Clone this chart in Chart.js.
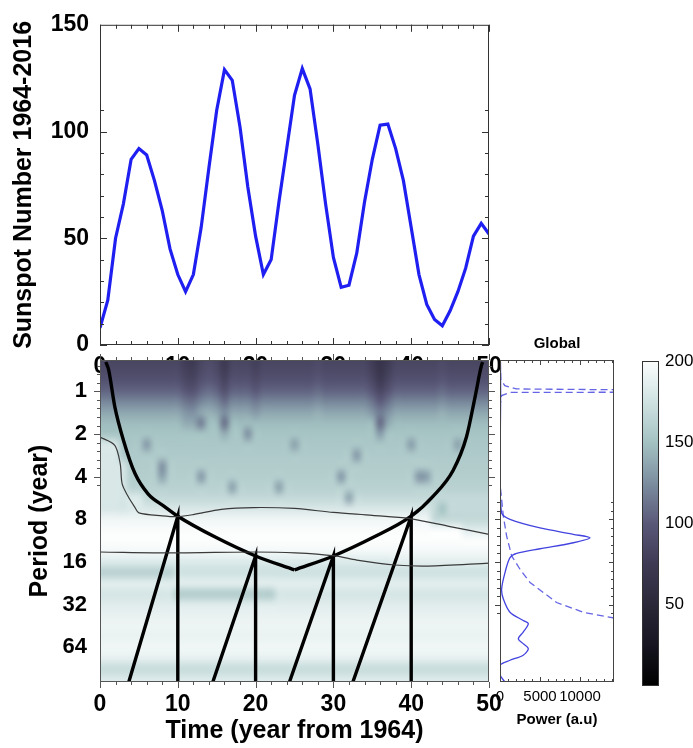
<!DOCTYPE html>
<html>
<head>
<meta charset="utf-8">
<script src="https://cdn.jsdelivr.net/npm/chart.js@4.4.1/dist/chart.umd.min.js"></script>
<style>
  html, body { margin: 0; padding: 0; background: #fff; }
  #wrap { position: relative; width: 693px; height: 748px; overflow: hidden; }
  #wrap canvas { position: absolute; left: 0; top: 0; }
</style>
</head>
<body>
<div id="wrap">
  <canvas id="sunspot" width="693" height="748"></canvas>
  <canvas id="wavelet" width="693" height="748"></canvas>
  <canvas id="global" width="693" height="748"></canvas>
  <canvas id="colorbar" width="693" height="748"></canvas>
</div>
<script>
// ---------- data ----------

// yearly sunspot number, one value per year from 1964 (t = 0 .. 50)
const sunspotValues = [8, 21, 50, 66, 87, 92, 89, 77, 63, 45, 33, 25, 33, 55, 83, 110, 129, 124, 102, 74,
  51, 33, 40, 67, 92, 117, 129.5, 120, 94, 66, 41, 27, 28, 43, 67, 87, 103, 103.5, 92, 77,
  55, 33, 19, 12, 9, 16, 25, 36, 51, 57, 52];

const sunspotTicks = [0, 50, 100, 150];
const timeTicks = [0, 10, 20, 30, 40, 50];
const periodTicks = [1, 2, 4, 8, 16, 32, 64];
const powerTicks = [0, 5000, 10000];
const colorTicks = [50, 100, 150, 200];

// wavelet power: rows every quarter octave of period (log2), one column per year
const powerRowsLog2 = [-0.75, -0.5, -0.25, 0, 0.25, 0.5, 0.75, 1, 1.25, 1.5, 1.75, 2, 2.25, 2.5, 2.75, 3,
  3.25, 3.5, 3.75, 4, 4.25, 4.5, 4.75, 5, 5.25, 5.5, 5.75, 6, 6.25, 6.5, 6.75, 7];
const powerRowBase = [84, 88, 95, 106, 122, 137, 147, 152, 154, 156, 158, 159, 162, 168, 180, 193,
  199, 200, 195, 182, 174, 186, 178, 184, 189, 192, 190, 194, 188, 170, 182, 188];
// darker / lighter vertical streaks at short periods: [year, up to log2 period, shift]
const topStreaks = [[11, 0.75, -8], [12, 0.75, -10], [16, 1.0, -12], [20, 0.5, -6], [35, 0.5, -8],
  [36, 1.0, -20], [37, 0.75, -10], [14, 0.5, 5], [28, 0.5, 4], [44, 0.5, 4]];
// areas with a different level: [year from, year to, log2 from, log2 to, value]
const powerPatches = [[0, 2, 1.25, 2.75, 180], [3, 3, 1.75, 2.75, 178], [4, 5, 2.5, 2.75, 182],
  [43, 50, 2.75, 3.0, 168], [47, 50, 3.25, 3.25, 184], [38, 50, 4.0, 4.0, 186],
  [0, 9, 4.25, 4.25, 162], [10, 22, 4.75, 4.75, 158]];
// small dark blobs: [year, log2 period, value]
const powerSpots = [[6, 1.25, 130], [8, 1.75, 126], [8, 2.0, 134], [13, 0.75, 118], [13, 2.0, 130],
  [16, 0.75, 110], [17, 2.25, 134], [19, 1.0, 126], [23, 2.25, 134], [25, 1.25, 134], [31, 2.0, 130],
  [32, 2.5, 136], [33, 1.5, 130], [36, 0.75, 108], [40, 1.25, 132], [41, 2.0, 128], [42, 2.0, 132],
  [44, 2.75, 150], [46, 1.25, 134]];

// cone of influence, left and right halves meeting at the kink
const coiLeftTime = [0.75, 1.1, 1.9, 3, 4.5, 6.2, 8.3, 10, 15, 20, 25];
const coiLeftPeriod = [0.62, 0.7, 1.28, 2.2, 3.8, 5.3, 6.5, 7.6, 10.8, 14.5, 18.2];
const coiRightTime = [25, 30, 35, 40, 42.8, 45.4, 47.1, 48.2, 49.05, 49.2];
const coiRightPeriod = [18.2, 14.5, 10.8, 7.6, 5.5, 3.6, 2.1, 1.1, 0.65, 0.62];

// straight guide lines meeting the cone at each decade
const ridgeStart = [3.7, 14.5, 24.35, 32.5];
const ridgeTime = [10, 20, 30, 40];
const ridgePeriod = [7.6, 14.5, 14.5, 7.6];

// thin contour lines
const contourATime = [0, 1.9, 2.6, 2.85, 3.6, 4.5, 5, 8, 10, 12, 15.6, 19.7, 25, 30, 35, 39.8, 45, 50];
const contourAPeriod = [2.1, 2.4, 3.25, 4.5, 5.5, 6.6, 7.2, 7.55, 7.65, 7.4, 6.8, 6.6, 6.7, 7.15, 7.5, 7.9, 9.0, 10.2];
const contourBTime = [0, 9.6, 19.9, 25.1, 30.2, 33, 37.9, 42.2, 50];
const contourBPeriod = [13.6, 13.8, 13.6, 13.8, 14.5, 15.5, 16.8, 17.1, 16.3];

// global wavelet spectrum and its significance level
const globalPeriod = [0.62, 0.8, 1, 1.5, 2, 3, 4.2, 7.2, 8.0, 9.2, 10.2, 10.8, 11.7, 12.9, 13.9, 14.9,
  19.0, 24.9, 29.2, 36.2, 41.4, 43.7, 50, 55.6, 60.3, 65.4, 72.8, 79, 85.6, 100, 112.5];
const globalPower = [60, 70, 80, 60, 40, 20, 0, 200, 1250, 5000, 9170, 11250, 9170, 5000, 2080, 1250,
  625, 200, 420, 1250, 2900, 3540, 2900, 2290, 2900, 3540, 2900, 1250, 0, 0, 600];
const signifPeriod = [0.62, 0.82, 0.91, 0.96, 0.99, 1.01, 1.016, 1.07, 1.23, 2, 4.46, 7.6, 10.5, 14.5,
  18.0, 22.3, 30.9, 36.2, 40.3, 45];
const signifPower = [30, 100, 600, 2000, 30000, 30000, 1250, 200, 30, 10, 0, 420, 830, 1460, 2500, 3750,
  7080, 10400, 14800, 18000];

// colour table of the power image
const colorStops = [[0, [0, 0, 0]], [25, [22, 21, 32]], [50, [42, 40, 56]], [75, [62, 58, 84]],
  [100, [90, 88, 120]], [125, [124, 142, 160]], [150, [164, 194, 194]], [175, [208, 226, 226]],
  [200, [252, 253, 253]]];

// ---------- helpers ----------
Chart.defaults.font.family = "'Liberation Sans', Arial, sans-serif";
Chart.defaults.color = '#000';
Chart.defaults.animation = false;

const pts = (xs, ys) => xs.map((x, i) => ({x: x, y: ys[i]}));
const steps = (a, b, s) => { const out = []; for (let v = a; v <= b + 1e-9; v += s) out.push(v); return out; };
const octaveMinors = steps(-5, 35, 1).map(k => Math.pow(2, k / 5));

function powerColor(v) {
  v = Math.max(0, Math.min(200, v));
  for (let i = 1; i < colorStops.length; i++) {
    const [v1, c1] = colorStops[i];
    if (v <= v1) {
      const [v0, c0] = colorStops[i - 1];
      const f = (v - v0) / (v1 - v0);
      return c0.map((c, k) => Math.round(c + f * (c1[k] - c)));
    }
  }
  return colorStops[colorStops.length - 1][1];
}

// frame + small tick marks drawn along the plot box
const framePlugin = {
  id: 'frame',
  beforeDraw(chart, args, opts) {
    if (!opts.fill) return;
    const {ctx, chartArea: a} = chart;
    ctx.save();
    ctx.fillStyle = opts.fill;
    ctx.fillRect(a.left, a.top, a.right - a.left, a.bottom - a.top);
    ctx.restore();
  },
  afterDraw(chart, args, opts) {
    const {ctx, chartArea: a} = chart;
    ctx.save();
    ctx.strokeStyle = opts.color || '#333';
    ctx.lineWidth = 1;
    ctx.strokeRect(a.left + 0.5, a.top + 0.5, a.right - a.left - 1, a.bottom - a.top - 1);
    (opts.marks || []).forEach(m => {
      const scale = chart.scales[m.axis];
      m.values.forEach(v => {
        const p = Math.round(scale.getPixelForValue(v)) + 0.5;
        if (p < a.left - 1 || p > a.right + 1 || (m.axis !== 'x' && (p < a.top - 1 || p > a.bottom + 1))) return;
        m.sides.forEach(([side, dir]) => {
          const d = dir * m.len;
          ctx.beginPath();
          if (side === 'left') { ctx.moveTo(a.left, p); ctx.lineTo(a.left + d, p); }
          if (side === 'right') { ctx.moveTo(a.right, p); ctx.lineTo(a.right - d, p); }
          if (side === 'top') { ctx.moveTo(p, a.top); ctx.lineTo(p, a.top + d); }
          if (side === 'bottom') { ctx.moveTo(p, a.bottom); ctx.lineTo(p, a.bottom - d); }
          ctx.stroke();
        });
      });
    });
    ctx.restore();
  }
};

// ---------- top panel: sunspot number ----------
new Chart(document.getElementById('sunspot'), {
  type: 'scatter',
  data: {
    datasets: [{
      data: sunspotValues.map((v, i) => ({x: i, y: v})),
      showLine: true, borderColor: '#1f1ff2', borderWidth: 3.2, pointRadius: 0, tension: 0
    }]
  },
  options: {
    responsive: false, devicePixelRatio: 1,
    layout: {padding: {left: 0, right: 204, top: 22, bottom: 363}},
    plugins: {
      legend: {display: false}, tooltip: {enabled: false},
      frame: {
        marks: [
          {axis: 'x', values: timeTicks, len: 7, sides: [['top', 1], ['bottom', 1]]},
          {axis: 'x', values: steps(0, 50, 2), len: 4, sides: [['top', 1], ['bottom', 1]]},
          {axis: 'y', values: sunspotTicks, len: 7, sides: [['left', 1], ['right', 1]]},
          {axis: 'y', values: steps(0, 150, 10), len: 4, sides: [['left', 1], ['right', 1]]}
        ]
      }
    },
    scales: {
      x: {
        type: 'linear', min: 0, max: 50,
        afterBuildTicks: s => { s.ticks = timeTicks.map(v => ({value: v})); },
        afterFit: s => { s.height = 40; },
        grid: {display: false, drawTicks: false}, border: {display: false},
        ticks: {font: {size: 23, weight: 'bold'}, padding: 8, maxRotation: 0}
      },
      y: {
        type: 'linear', min: 0, max: 150,
        afterBuildTicks: s => { s.ticks = sunspotTicks.map(v => ({value: v})); },
        afterFit: s => { s.width = 100; },
        grid: {display: false, drawTicks: false}, border: {display: false},
        ticks: {font: {size: 23, weight: 'bold'}, padding: 11},
        title: {display: true, text: 'Sunspot Number 1964-2016', font: {size: 25, weight: 'bold'}, padding: {top: 9, bottom: 0}}
      }
    }
  },
  plugins: [framePlugin]
});

// ---------- wavelet power image ----------
const gridCols = sunspotValues.length;
const powerGrid = powerRowsLog2.map((lg, r) => Array.from({length: gridCols}, () => powerRowBase[r]));
topStreaks.forEach(([t, lgMax, shift]) => powerRowsLog2.forEach((lg, r) => {
  if (lg <= lgMax) powerGrid[r][t] += shift;
}));
powerPatches.forEach(([t0, t1, lg0, lg1, v]) => powerRowsLog2.forEach((lg, r) => {
  if (lg >= lg0 && lg <= lg1) for (let t = t0; t <= t1; t++) powerGrid[r][t] = v;
}));
powerSpots.forEach(([t, lg, v]) => {
  const r = powerRowsLog2.indexOf(lg);
  powerGrid[r][t] = Math.min(powerGrid[r][t], v);
});

const waveletImage = {
  id: 'waveletImage',
  beforeDatasetsDraw(chart) {
    const {ctx, chartArea: a, scales: {x, y}} = chart;
    const off = document.createElement('canvas');
    off.width = gridCols;
    off.height = powerRowsLog2.length;
    const octx = off.getContext('2d');
    const img = octx.createImageData(off.width, off.height);
    powerGrid.forEach((row, r) => row.forEach((v, c) => {
      const [R, G, B] = powerColor(v);
      const k = (r * off.width + c) * 4;
      img.data[k] = R; img.data[k + 1] = G; img.data[k + 2] = B; img.data[k + 3] = 255;
    }));
    octx.putImageData(img, 0, 0);
    const x0 = x.getPixelForValue(-0.5);
    const x1 = x.getPixelForValue(gridCols - 0.5);
    const y0 = y.getPixelForValue(Math.pow(2, powerRowsLog2[0] - 0.125));
    const y1 = y.getPixelForValue(Math.pow(2, powerRowsLog2[powerRowsLog2.length - 1] + 0.125));
    ctx.save();
    ctx.beginPath();
    ctx.rect(a.left, a.top, a.right - a.left, a.bottom - a.top);
    ctx.clip();
    ctx.imageSmoothingEnabled = true;
    ctx.imageSmoothingQuality = 'high';
    ctx.drawImage(off, x0, y0, x1 - x0, y1 - y0);
    ctx.restore();
  }
};

const periodMin = 0.627, periodMax = 112.5;
const ridgeSets = ridgeTime.map((t, i) => ({
  data: [{x: ridgeStart[i], y: periodMax}, {x: t, y: ridgePeriod[i]}, {x: t, y: periodMax}],
  showLine: true, borderColor: '#000', borderWidth: 3.4, pointRadius: 0, borderJoinStyle: 'miter'
}));
const coiStyle = {showLine: true, borderColor: '#000', borderWidth: 3.4, pointRadius: 0, cubicInterpolationMode: 'monotone'};

new Chart(document.getElementById('wavelet'), {
  type: 'scatter',
  data: {
    datasets: [
      {data: pts(contourATime, contourAPeriod), showLine: true, borderColor: '#3a3a3a', borderWidth: 1.2, pointRadius: 0, tension: 0.3},
      {data: pts(contourBTime, contourBPeriod), showLine: true, borderColor: '#3a3a3a', borderWidth: 1.2, pointRadius: 0, tension: 0.3},
      Object.assign({data: pts(coiLeftTime, coiLeftPeriod)}, coiStyle),
      Object.assign({data: pts(coiRightTime, coiRightPeriod)}, coiStyle),
      ...ridgeSets
    ]
  },
  options: {
    responsive: false, devicePixelRatio: 1,
    layout: {padding: {left: 0, right: 204, top: 360, bottom: 0}},
    plugins: {
      legend: {display: false}, tooltip: {enabled: false},
      frame: {
        color: '#555',
        marks: [
          {axis: 'x', values: timeTicks, len: 6, sides: [['top', -1], ['bottom', -1]]},
          {axis: 'x', values: steps(0, 50, 2), len: 3, sides: [['top', -1], ['bottom', -1]]},
          {axis: 'y', values: periodTicks, len: 6, sides: [['left', -1], ['right', -1]]},
          {axis: 'y', values: octaveMinors, len: 3, sides: [['left', -1], ['right', -1]]}
        ]
      }
    },
    scales: {
      x: {
        type: 'linear', min: 0, max: 50,
        afterBuildTicks: s => { s.ticks = timeTicks.map(v => ({value: v})); },
        afterFit: s => { s.height = 66; },
        grid: {display: false, drawTicks: false}, border: {display: false},
        ticks: {font: {size: 23, weight: 'bold'}, padding: 9, maxRotation: 0},
        title: {display: true, text: 'Time (year from 1964)', font: {size: 25, weight: 'bold'}, padding: {top: 0, bottom: 2}}
      },
      y: {
        type: 'logarithmic', min: periodMin, max: periodMax, reverse: true,
        afterBuildTicks: s => { s.ticks = periodTicks.map(v => ({value: v})); },
        afterFit: s => { s.width = 100; },
        grid: {display: false, drawTicks: false}, border: {display: false},
        ticks: {font: {size: 22, weight: 'bold'}, padding: 13, callback: v => String(v)},
        title: {display: true, text: 'Period (year)', font: {size: 25, weight: 'bold'}, padding: {top: 25, bottom: 0}}
      }
    }
  },
  plugins: [waveletImage, framePlugin]
});

// ---------- global wavelet spectrum ----------
new Chart(document.getElementById('global'), {
  type: 'scatter',
  data: {
    datasets: [
      {data: pts(globalPower, globalPeriod), showLine: true, borderColor: '#4343e0', borderWidth: 1.3, pointRadius: 0, tension: 0.3},
      {data: pts(signifPower, signifPeriod), showLine: true, borderColor: '#6464e4', borderWidth: 1.3, borderDash: [7, 4], pointRadius: 0}
    ]
  },
  options: {
    responsive: false, devicePixelRatio: 1,
    layout: {padding: {left: 500, right: 79, top: 335, bottom: 0}},
    plugins: {
      legend: {display: false}, tooltip: {enabled: false},
      title: {display: true, text: 'Global', font: {size: 15, weight: 'bold'}, padding: {top: 0, bottom: 7}},
      frame: {
        fill: '#fff', color: '#444',
        marks: [
          {axis: 'x', values: powerTicks, len: 5, sides: [['top', 1], ['bottom', 1]]},
          {axis: 'x', values: steps(0, 14000, 1000), len: 3, sides: [['top', 1], ['bottom', 1]]},
          {axis: 'y', values: periodTicks, len: 5, sides: [['left', -1], ['right', 1]]},
          {axis: 'y', values: octaveMinors, len: 3, sides: [['left', -1], ['right', 1]]}
        ]
      }
    },
    scales: {
      x: {
        type: 'linear', min: 0, max: 14250,
        afterBuildTicks: s => { s.ticks = powerTicks.map(v => ({value: v})); },
        afterFit: s => { s.height = 66; },
        grid: {display: false, drawTicks: false}, border: {display: false},
        ticks: {font: {size: 15}, padding: 6, maxRotation: 0, autoSkip: false, callback: v => String(v)},
        title: {display: true, text: 'Power (a.u)', font: {size: 15, weight: 'bold'}, padding: {top: 0, bottom: 19}}
      },
      y: {type: 'logarithmic', min: periodMin, max: periodMax, reverse: true, display: false}
    }
  },
  plugins: [framePlugin]
});

// ---------- colour bar ----------
new Chart(document.getElementById('colorbar'), {
  type: 'bar',
  data: {
    labels: [''],
    datasets: [{
      data: [200],
      barPercentage: 1, categoryPercentage: 1, borderWidth: 0,
      backgroundColor: ctx => {
        const {chart} = ctx;
        const a = chart.chartArea;
        if (!a) return '#888';
        const g = chart.ctx.createLinearGradient(0, a.bottom, 0, a.top);
        colorStops.forEach(([v, c]) => g.addColorStop(v / 200, 'rgb(' + c.join(',') + ')'));
        return g;
      }
    }]
  },
  options: {
    responsive: false, devicePixelRatio: 1,
    layout: {padding: {left: 642, right: 0, top: 361, bottom: 62}},
    plugins: {
      legend: {display: false}, tooltip: {enabled: false},
      frame: {
        color: '#333',
        marks: [{axis: 'y', values: [50, 100, 150], len: 4, sides: [['left', 1], ['right', -1]]}]
      }
    },
    scales: {
      x: {display: false},
      y: {
        position: 'right', min: 0, max: 200,
        afterBuildTicks: s => { s.ticks = colorTicks.map(v => ({value: v})); },
        afterFit: s => { s.width = 34; },
        grid: {display: false, drawTicks: false}, border: {display: false},
        ticks: {font: {size: 17}, padding: 6}
      }
    }
  },
  plugins: [framePlugin]
});
</script>
</body>
</html>
